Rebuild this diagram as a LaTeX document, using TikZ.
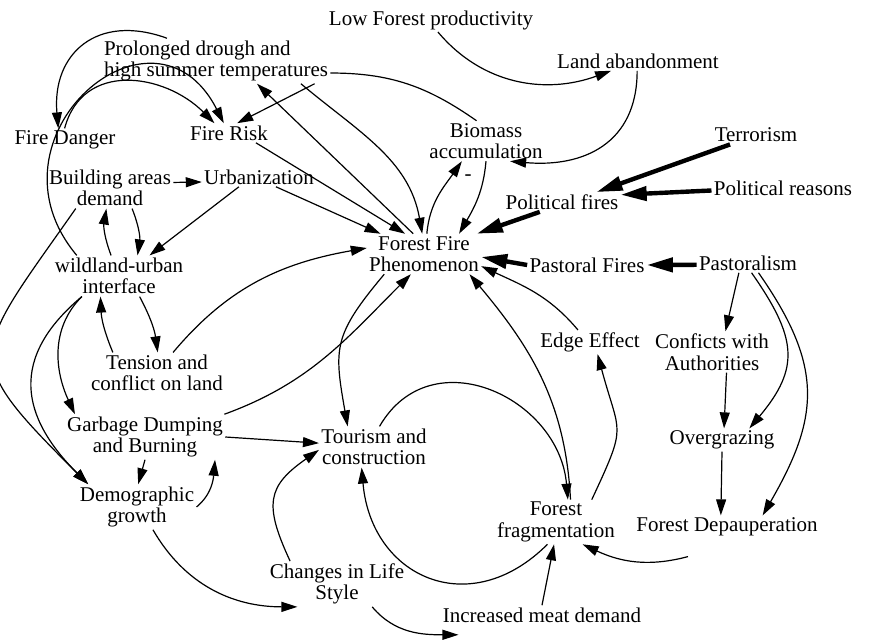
\documentclass[tikz,border=0pt]{standalone}
\usepackage{fontspec}
\setmainfont{Liberation Serif}
\usetikzlibrary{arrows.meta}

\begin{document}
\begin{tikzpicture}[x=0.5pt,y=0.5pt,
    var/.style={inner sep=1pt,font=\fontsize{10.5}{10.8}\selectfont,align=center},
    lnk/.style={line width=0.6pt,-{Triangle[length=8pt,width=5pt]}},
    plain/.style={line width=0.6pt},
    big/.style={line width=2.2pt,-{Triangle[length=13pt,width=7pt]}}]
  \useasboundingbox (0,0) rectangle (873,-640);

  % Variables
  \node[var] (lowfp) at (431,-20) {Low Forest productivity};
  \node[var] (landab) at (638,-61) {Land abandonment};
  \node[var,align=left] (drought) at (216,-61) {Prolonged drough and\\high summer temperatures};
  \node[var] (fdanger) at (65,-140) {Fire Danger};
  \node[var] (firerisk) at (229,-133) {Fire Risk};
  \node[var] (biomass) at (486,-141) {Biomass\\accumulation};
  \node[var] (terror) at (756,-135) {Terrorism};
  \node[var] (polreas) at (783,-188) {Political reasons};
  \node[var] (polfires) at (562,-202) {Political fires};
  \node[var] (bldg) at (110,-188) {Building areas\\demand};
  \node[var] (urban) at (259,-177) {Urbanization};
  \node[var] (ffp) at (424,-254) {Forest Fire\\Phenomenon};
  \node[var] (wui) at (119,-276) {wildland-urban\\interface};
  \node[var] (pastfires) at (587,-265) {Pastoral Fires};
  \node[var] (pastoral) at (748,-263) {Pastoralism};
  \node[var] (edgeeff) at (590,-342) {Edge Effect};
  \node[var] (conflicts) at (712,-352) {Conficts with\\Authorities};
  \node[var] (tension) at (157,-373) {Tension and\\conflict on land};
  \node[var] (garbage) at (145,-437) {Garbage Dumping\\and Burning};
  \node[var] (tourism) at (374,-447) {Tourism and\\construction};
  \node[var] (overgraz) at (722,-440) {Overgrazing};
  \node[var] (demog) at (137,-507) {Demographic\\growth};
  \node[var] (frag) at (556,-522) {Forest\\fragmentation};
  \node[var] (depaup) at (727,-527) {Forest Depauperation};
  \node[var] (lifestyle) at (337,-584) {Changes in Life\\Style};
  \node[var] (meat) at (542,-615) {Increased meat demand};
  \node[var] (minus) at (468,-178) {-};

  % Top links
  \draw[lnk] (lowfp.300) to[out=-50,in=200] (landab.200);
  \draw[lnk] (landab.265) to[out=-90,in=-5,looseness=1.2] (biomass.320);
  \draw[plain] (biomass.115) to[out=145,in=0] (drought.354);
  \draw[lnk] (drought.345) to[out=-40,in=100] (ffp.95);
  \draw[lnk] (ffp.118) -- (drought.331);
  \draw[lnk] (drought.347) -- (firerisk.50);
  \draw[lnk] ([shift={(-49,0)}]drought.north) to[out=160,in=95,looseness=1.35] (fdanger.120);
  \draw[lnk] (fdanger.92) to[out=75,in=135,looseness=1.2] (firerisk.146);
  \draw[lnk] (wui.154) to[out=130,in=117,looseness=2] (firerisk.118);
  \draw[lnk] (firerisk.340) -- (ffp.133);
  \draw[lnk] (urban.330) -- (ffp.155);
  \draw[lnk] (bldg.5) -- (urban.185);

  % Biomass and fires
  \draw[lnk] (biomass.270) to[out=265,in=60] (ffp.30);
  \draw[lnk] (ffp.82) to[out=85,in=235] (biomass.220);
  \draw[big] (terror.200) -- (polfires.16);
  \draw[big] (polreas.182) -- (polfires.7);
  \draw[big] (polfires.204) -- (ffp.21);
  \draw[big] (pastoral.182) -- (pastfires.east);
  \draw[big] (pastfires.west) -- (ffp.357);

  % Left side
  \draw[lnk] (wui.111) to[bend left=15] (bldg.260);
  \draw[lnk] (bldg.317) to[bend left=15] (wui.48);
  \draw[lnk] (urban.206) -- (wui.34);
  \draw[lnk] (wui.315) to[bend left=10] (tension.88);
  \draw[lnk] (tension.155) to[bend left=10] (wui.228);
  \draw[lnk] (tension.52) to[out=50,in=190] (ffp.174);
  \draw[lnk] (bldg.211) to[out=235,in=135,looseness=1.7] (demog.155);
  \draw[lnk] (wui.209) to[out=225,in=115] (garbage.162);
  \draw[lnk] (wui.209) to[out=220,in=135,looseness=1.3] (demog.155);
  \draw[lnk] (garbage.16) to[out=20,in=225] (ffp.237);
  \draw[lnk] (garbage.east) -- (tourism.176);
  \draw[lnk] (garbage.south) -- (demog.87);
  \draw[lnk] (demog.east) to[out=40,in=265] (garbage.342);
  \draw[lnk] (demog.305) to[out=-60,in=180] (lifestyle.210);

  % Bottom
  \draw[lnk] (ffp.207) to[out=230,in=100,looseness=1.3] (tourism.142);
  \draw[lnk] (lifestyle.154) to[out=115,in=215,looseness=1.4] (tourism.183);
  \draw[lnk] (lifestyle.327) to[out=-50,in=180] ([shift={(18,-10)}]meat.south west);
  \draw[lnk] (meat.north) -- (frag.265);
  \draw[lnk] (frag.249) to[out=225,in=275,looseness=1.4] (tourism.239);
  \draw[lnk] (tourism.75) to[out=60,in=95,looseness=1.3] (frag.62);
  \draw[lnk] (frag.57) to[out=93,in=310] (ffp.336);
  \draw[lnk] (frag.32) to[out=65,in=285,looseness=1.5] (edgeeff.302);
  \draw[lnk] (edgeeff.135) to[out=130,in=335] (ffp.348);

  % Pastoralism
  \draw[lnk] (pastoral.227) -- (conflicts.57);
  \draw[lnk] (conflicts.305) -- (overgraz.80);
  \draw[lnk] (pastoral.290) to[out=-55,in=50,looseness=1.3] (overgraz.23);
  \draw[lnk] (pastoral.317) to[out=-55,in=60,looseness=1.2] (depaup.18);
  \draw[lnk] (overgraz.south) -- (depaup.118);
  \draw[lnk] ([shift={(-39,-18)}]depaup.south) to[out=195,in=-25] (frag.320);
\end{tikzpicture}
\end{document}
